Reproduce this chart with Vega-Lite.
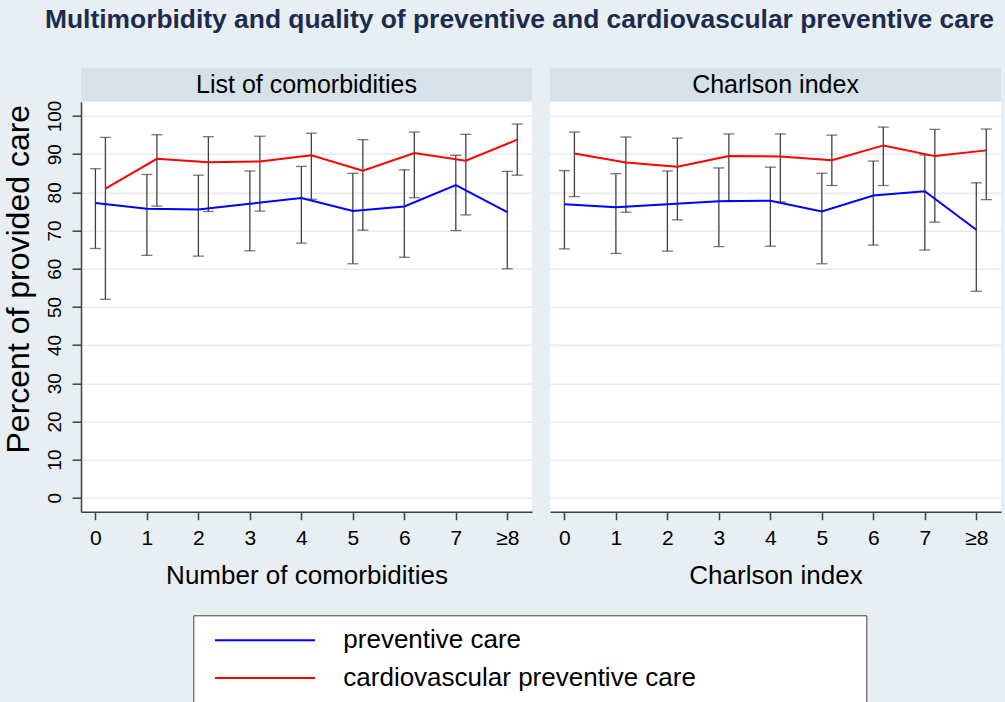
{
  "$schema": "https://vega.github.io/schema/vega-lite/v6.json",
  "autosize": {"type": "none"},
  "padding": {"left": 81, "top": 67.7, "right": 924, "bottom": 634.3},
  "background": "#e8eff2",
  "title": {
    "text": "Multimorbidity and quality of preventive and cardiovascular preventive care",
    "anchor": "start", "frame": "group", "font": "Liberation Sans", "fontSize": 26.4,
    "fontWeight": "bold", "color": "#1d2b4f", "baseline": "alphabetic", "offset": 13.4, "dx": -36
  },
  "config": {
    "font": "Liberation Sans",
    "view": {"stroke": null},
    "axis": {
      "labelFont": "Liberation Sans", "titleFont": "Liberation Sans",
      "labelColor": "black", "titleColor": "black", "titleFontWeight": "normal",
      "domainColor": "#404040", "tickColor": "#404040", "domainWidth": 1.5, "tickWidth": 1.5,
      "gridColor": "#e4ecf0", "gridWidth": 1.5, "labelFlush": false, "labelOverlap": false
    },
    "legend": {
      "fillColor": "white", "strokeColor": "#404040", "padding": 12, "symbolOffset": 46.7,
      "symbolType": "M-5,0H5M58.5,0", "symbolSize": 400, "symbolStrokeWidth": 2, "labelOffset": 65.3,
      "labelFontSize": 26, "labelFont": "Liberation Sans", "labelColor": "black", "rowPadding": 11.6,
      "labelLimit": 700
    }
  },
  "datasets": {
    "ci": [
      {"panel": "list", "series": "preventive care", "k": 0, "mean": 77.2, "lo": 65.3, "hi": 86.2},
      {"panel": "list", "series": "preventive care", "k": 1, "mean": 75.7, "lo": 63.5, "hi": 84.7},
      {"panel": "list", "series": "preventive care", "k": 2, "mean": 75.5, "lo": 63.3, "hi": 84.5},
      {"panel": "list", "series": "preventive care", "k": 3, "mean": 77.0, "lo": 64.7, "hi": 85.6},
      {"panel": "list", "series": "preventive care", "k": 4, "mean": 78.5, "lo": 66.7, "hi": 86.8},
      {"panel": "list", "series": "preventive care", "k": 5, "mean": 75.1, "lo": 61.3, "hi": 85.0},
      {"panel": "list", "series": "preventive care", "k": 6, "mean": 76.3, "lo": 63.0, "hi": 85.9},
      {"panel": "list", "series": "preventive care", "k": 7, "mean": 81.9, "lo": 70.0, "hi": 89.7},
      {"panel": "list", "series": "preventive care", "k": 8, "mean": 74.8, "lo": 60.0, "hi": 85.5},
      {"panel": "list", "series": "cardiovascular preventive care", "k": 0, "mean": 81.0, "lo": 52.0, "hi": 94.4},
      {"panel": "list", "series": "cardiovascular preventive care", "k": 1, "mean": 88.8, "lo": 76.4, "hi": 95.1},
      {"panel": "list", "series": "cardiovascular preventive care", "k": 2, "mean": 87.9, "lo": 75.0, "hi": 94.6},
      {"panel": "list", "series": "cardiovascular preventive care", "k": 3, "mean": 88.1, "lo": 75.1, "hi": 94.7},
      {"panel": "list", "series": "cardiovascular preventive care", "k": 4, "mean": 89.7, "lo": 78.2, "hi": 95.5},
      {"panel": "list", "series": "cardiovascular preventive care", "k": 5, "mean": 85.7, "lo": 70.1, "hi": 93.8},
      {"panel": "list", "series": "cardiovascular preventive care", "k": 6, "mean": 90.3, "lo": 78.6, "hi": 95.8},
      {"panel": "list", "series": "cardiovascular preventive care", "k": 7, "mean": 88.3, "lo": 74.1, "hi": 95.2},
      {"panel": "list", "series": "cardiovascular preventive care", "k": 8, "mean": 93.8, "lo": 84.5, "hi": 97.9},
      {"panel": "charlson", "series": "preventive care", "k": 0, "mean": 76.9, "lo": 65.2, "hi": 85.7},
      {"panel": "charlson", "series": "preventive care", "k": 1, "mean": 76.1, "lo": 64.0, "hi": 84.9},
      {"panel": "charlson", "series": "preventive care", "k": 2, "mean": 76.9, "lo": 64.6, "hi": 85.6},
      {"panel": "charlson", "series": "preventive care", "k": 3, "mean": 77.7, "lo": 65.8, "hi": 86.4},
      {"panel": "charlson", "series": "preventive care", "k": 4, "mean": 77.8, "lo": 65.9, "hi": 86.6},
      {"panel": "charlson", "series": "preventive care", "k": 5, "mean": 75.0, "lo": 61.3, "hi": 85.0},
      {"panel": "charlson", "series": "preventive care", "k": 6, "mean": 79.2, "lo": 66.2, "hi": 88.2},
      {"panel": "charlson", "series": "preventive care", "k": 7, "mean": 80.3, "lo": 64.9, "hi": 89.8},
      {"panel": "charlson", "series": "preventive care", "k": 8, "mean": 70.2, "lo": 54.1, "hi": 82.5},
      {"panel": "charlson", "series": "cardiovascular preventive care", "k": 0, "mean": 90.2, "lo": 78.9, "hi": 95.8},
      {"panel": "charlson", "series": "cardiovascular preventive care", "k": 1, "mean": 87.8, "lo": 74.8, "hi": 94.5},
      {"panel": "charlson", "series": "cardiovascular preventive care", "k": 2, "mean": 86.7, "lo": 72.8, "hi": 94.2},
      {"panel": "charlson", "series": "cardiovascular preventive care", "k": 3, "mean": 89.5, "lo": 77.8, "hi": 95.3},
      {"panel": "charlson", "series": "cardiovascular preventive care", "k": 4, "mean": 89.4, "lo": 77.5, "hi": 95.3},
      {"panel": "charlson", "series": "cardiovascular preventive care", "k": 5, "mean": 88.4, "lo": 81.8, "hi": 95.0},
      {"panel": "charlson", "series": "cardiovascular preventive care", "k": 6, "mean": 92.3, "lo": 81.8, "hi": 97.1},
      {"panel": "charlson", "series": "cardiovascular preventive care", "k": 7, "mean": 89.5, "lo": 72.2, "hi": 96.5},
      {"panel": "charlson", "series": "cardiovascular preventive care", "k": 8, "mean": 91.0, "lo": 78.1, "hi": 96.6}
    ]
  },
  "columns": 2,
  "spacing": {"row": 0, "column": 18},
  "bounds": "flush",
  "resolve": {"scale": {"color": "shared"}},
  "concat": [
    {
      "width": 451, "height": 34, "view": {"fill": "#d6e2e8", "stroke": null},
      "data": {"values": [{"label": "List of comorbidities"}]},
      "mark": {"type": "text", "fontSize": 25, "color": "black", "font": "Liberation Sans"},
      "encoding": {"text": {"field": "label", "type": "nominal"}}
    },
    {
      "width": 451, "height": 34, "view": {"fill": "#d6e2e8", "stroke": null},
      "data": {"values": [{"label": "Charlson index"}]},
      "mark": {"type": "text", "fontSize": 25, "color": "black", "font": "Liberation Sans"},
      "encoding": {"text": {"field": "label", "type": "nominal"}}
    },
    {
      "width": 451, "height": 410, "view": {"fill": "white", "stroke": null},
      "data": {"name": "ci"},
      "transform": [{"filter": "datum.panel == 'list'"}],
      "encoding": {
        "x": {"field": "k", "type": "quantitative",
          "scale": {"domain": [-0.28, 8.48], "nice": false, "zero": false},
          "axis": {"values": [0, 1, 2, 3, 4, 5, 6, 7, 8], "labelExpr": "datum.value == 8 ? '≥8' : datum.label",
            "title": "Number of comorbidities", "grid": false, "tickSize": 8, "labelPadding": 8,
            "labelFontSize": 21, "titleFontSize": 26, "titlePadding": 14}}
      },
      "layer": [
        {
          "transform": [{"filter": "datum.series == 'preventive care'"}],
          "mark": {"type": "rule", "color": "#404040", "strokeWidth": 1.3},
          "encoding": {
            "y": {"field": "lo", "type": "quantitative", "title": "Percent of provided care",
              "scale": {"domain": [-3.64, 103.75], "nice": false, "zero": false},
              "axis": {"values": [0, 10, 20, 30, 40, 50, 60, 70, 80, 90, 100], "grid": true, "tickSize": 9,
                "labelAngle": 270, "labelAlign": "center", "labelBaseline": "alphabetic", "labelPadding": 12,
                "labelFontSize": 19, "titleFontSize": 32, "titleX": -52.7, "titleY": 177, "titleAngle": 270,
                "titleAlign": "center", "titleBaseline": "alphabetic"}},
            "y2": {"field": "hi"}
          }
        },
        {
          "transform": [{"filter": "datum.series == 'preventive care'"}, {"fold": ["lo", "hi"], "as": ["end", "v"]}],
          "mark": {"type": "tick", "orient": "horizontal", "size": 11, "thickness": 1.3, "color": "#404040"},
          "encoding": {"y": {"field": "v", "type": "quantitative", "title": "Percent of provided care", "scale": {"domain": [-3.64, 103.75], "nice": false, "zero": false}}}
        },
        {
          "transform": [{"filter": "datum.series != 'preventive care'"}],
          "mark": {"type": "rule", "color": "#404040", "strokeWidth": 1.3, "xOffset": 10},
          "encoding": {
            "y": {"field": "lo", "type": "quantitative", "title": "Percent of provided care", "scale": {"domain": [-3.64, 103.75], "nice": false, "zero": false}},
            "y2": {"field": "hi"}
          }
        },
        {
          "transform": [{"filter": "datum.series != 'preventive care'"}, {"fold": ["lo", "hi"], "as": ["end", "v"]}],
          "mark": {"type": "tick", "orient": "horizontal", "size": 11, "thickness": 1.3, "color": "#404040", "xOffset": 10},
          "encoding": {"y": {"field": "v", "type": "quantitative", "title": "Percent of provided care", "scale": {"domain": [-3.64, 103.75], "nice": false, "zero": false}}}
        },
        {
          "transform": [{"filter": "datum.series == 'preventive care'"}],
          "mark": {"type": "line", "strokeWidth": 2},
          "encoding": {
            "y": {"field": "mean", "type": "quantitative", "title": "Percent of provided care", "scale": {"domain": [-3.64, 103.75], "nice": false, "zero": false}},
            "color": {"field": "series", "type": "nominal",
              "scale": {"domain": ["preventive care", "cardiovascular preventive care"], "range": ["#0000ff", "#ff0000"]},
              "title": null,
              "legend": {"orient": "none", "legendX": 112.3, "legendY": 547.6}}
          }
        },
        {
          "transform": [{"filter": "datum.series != 'preventive care'"}],
          "mark": {"type": "line", "strokeWidth": 2, "xOffset": 10},
          "encoding": {
            "y": {"field": "mean", "type": "quantitative", "title": "Percent of provided care", "scale": {"domain": [-3.64, 103.75], "nice": false, "zero": false}},
            "color": {"field": "series", "type": "nominal",
              "scale": {"domain": ["preventive care", "cardiovascular preventive care"], "range": ["#0000ff", "#ff0000"]},
              "title": null,
              "legend": {"orient": "none", "legendX": 112.3, "legendY": 547.6}}
          }
        }
      ]
    },
    {
      "width": 451, "height": 410, "view": {"fill": "white", "stroke": null},
      "data": {"name": "ci"},
      "transform": [{"filter": "datum.panel == 'charlson'"}],
      "encoding": {
        "x": {"field": "k", "type": "quantitative",
          "scale": {"domain": [-0.28, 8.48], "nice": false, "zero": false},
          "axis": {"values": [0, 1, 2, 3, 4, 5, 6, 7, 8], "labelExpr": "datum.value == 8 ? '≥8' : datum.label",
            "title": "Charlson index", "grid": false, "tickSize": 8, "labelPadding": 8,
            "labelFontSize": 21, "titleFontSize": 26, "titlePadding": 14}}
      },
      "layer": [
        {
          "transform": [{"filter": "datum.series == 'preventive care'"}],
          "mark": {"type": "rule", "color": "#404040", "strokeWidth": 1.3},
          "encoding": {
            "y": {"field": "lo", "type": "quantitative", "title": null,
              "scale": {"domain": [-3.64, 103.75], "nice": false, "zero": false},
              "axis": {"values": [0, 10, 20, 30, 40, 50, 60, 70, 80, 90, 100], "grid": true, "domain": false,
                "ticks": false, "labels": false}},
            "y2": {"field": "hi"}
          }
        },
        {
          "transform": [{"filter": "datum.series == 'preventive care'"}, {"fold": ["lo", "hi"], "as": ["end", "v"]}],
          "mark": {"type": "tick", "orient": "horizontal", "size": 11, "thickness": 1.3, "color": "#404040"},
          "encoding": {"y": {"field": "v", "type": "quantitative", "title": null, "scale": {"domain": [-3.64, 103.75], "nice": false, "zero": false}}}
        },
        {
          "transform": [{"filter": "datum.series != 'preventive care'"}],
          "mark": {"type": "rule", "color": "#404040", "strokeWidth": 1.3, "xOffset": 10},
          "encoding": {
            "y": {"field": "lo", "type": "quantitative", "title": null, "scale": {"domain": [-3.64, 103.75], "nice": false, "zero": false}},
            "y2": {"field": "hi"}
          }
        },
        {
          "transform": [{"filter": "datum.series != 'preventive care'"}, {"fold": ["lo", "hi"], "as": ["end", "v"]}],
          "mark": {"type": "tick", "orient": "horizontal", "size": 11, "thickness": 1.3, "color": "#404040", "xOffset": 10},
          "encoding": {"y": {"field": "v", "type": "quantitative", "title": null, "scale": {"domain": [-3.64, 103.75], "nice": false, "zero": false}}}
        },
        {
          "transform": [{"filter": "datum.series == 'preventive care'"}],
          "mark": {"type": "line", "strokeWidth": 2},
          "encoding": {
            "y": {"field": "mean", "type": "quantitative", "title": null, "scale": {"domain": [-3.64, 103.75], "nice": false, "zero": false}},
            "color": {"field": "series", "type": "nominal",
              "scale": {"domain": ["preventive care", "cardiovascular preventive care"], "range": ["#0000ff", "#ff0000"]},
              "title": null,
              "legend": {"orient": "none", "legendX": 112.3, "legendY": 547.6}}
          }
        },
        {
          "transform": [{"filter": "datum.series != 'preventive care'"}],
          "mark": {"type": "line", "strokeWidth": 2, "xOffset": 10},
          "encoding": {
            "y": {"field": "mean", "type": "quantitative", "title": null, "scale": {"domain": [-3.64, 103.75], "nice": false, "zero": false}},
            "color": {"field": "series", "type": "nominal",
              "scale": {"domain": ["preventive care", "cardiovascular preventive care"], "range": ["#0000ff", "#ff0000"]},
              "title": null,
              "legend": {"orient": "none", "legendX": 112.3, "legendY": 547.6}}
          }
        }
      ]
    }
  ]
}
